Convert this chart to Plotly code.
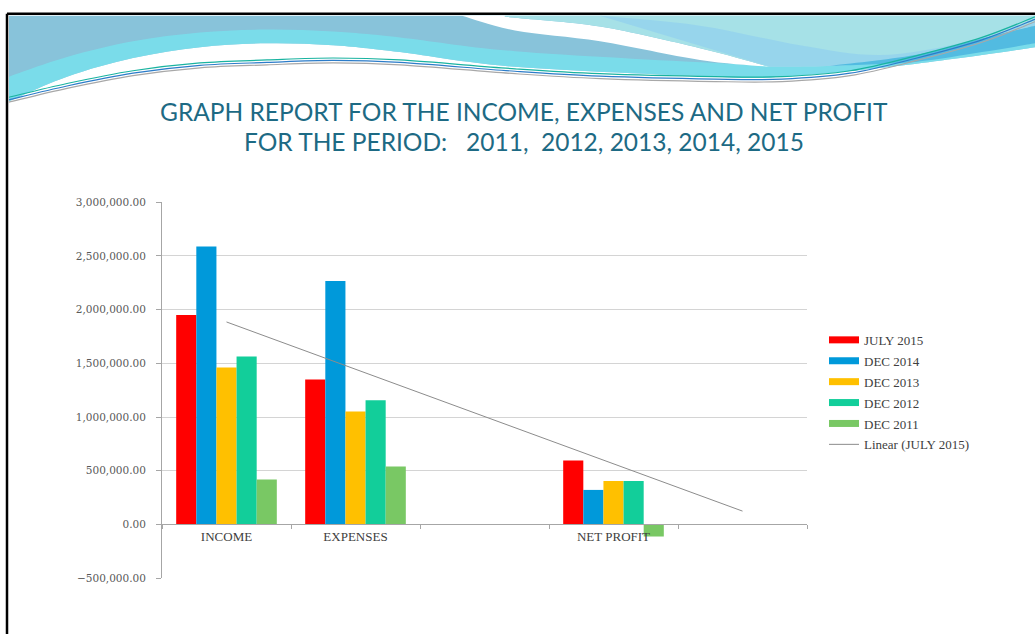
import numpy as np
import plotly.graph_objects as go

# ---------------- data ----------------
categories = ["INCOME", "EXPENSES", "", "NET PROFIT", ""]
july_2015 = [1949000, 1349000, None, 596000, None]
dec_2014 = [2587000, 2266000, None, 321000, None]
dec_2013 = [1462000, 1052000, None, 404000, None]
dec_2012 = [1563000, 1156000, None, 404000, None]
dec_2011 = [417000, 538000, None, -113000, None]
series_names = ["JULY 2015", "DEC 2014", "DEC 2013", "DEC 2012", "DEC 2011"]
series_values = [july_2015, dec_2014, dec_2013, dec_2012, dec_2011]
series_colors = ["#FF0000", "#0099DA", "#FFC000", "#12CE9A", "#79C864"]
y_ticks = [-500000, 0, 500000, 1000000, 1500000, 2000000, 2500000, 3000000]
trend_name = "Linear (JULY 2015)"
title_line1 = "GRAPH REPORT FOR THE INCOME, EXPENSES AND NET PROFIT"
title_line2 = "FOR THE PERIOD:\u00a0\u00a0 2011,\u00a0 2012, 2013, 2014, 2015"

# ---------------- geometry ----------------
W, H = 1035, 640
PL, PR, PT, PB = 162, 807, 200, 583  # plot area in px
y_min, y_max = y_ticks[0], y_ticks[-1]
positions = list(range(1, len(categories) + 1))

x_dom = [PL / W, PR / W]
y_dom = [1 - PB / H, 1 - PT / H]
zero_pos = y_dom[0] + (0 - y_min) / (y_max - y_min) * (y_dom[1] - y_dom[0])

# linear trend of July 2015 (blank categories skipped)
tx = [p for p, v in zip(positions, july_2015) if v is not None]
ty = [v for v in july_2015 if v is not None]
slope, icpt = np.polyfit(tx, ty, 1)
trend_y = [slope * p + icpt for p in positions]

fig = go.Figure()
for name, vals, col in zip(series_names, series_values, series_colors):
    fig.add_trace(go.Bar(x=positions, y=vals, name=name, marker=dict(color=col, line=dict(width=0)),
                         legendgroup=name, showlegend=False))
for name, col in zip(series_names, series_colors):
    fig.add_trace(go.Scatter(x=[None], y=[None], mode="lines", name=name, legendgroup=name,
                             line=dict(color=col, width=7), hoverinfo="skip"))
fig.add_trace(go.Scatter(x=positions, y=trend_y, mode="lines", name=trend_name, legendgroup="trend",
                         line=dict(color="#8C8C8C", width=1)))


# ---------------- decoration (slide waves) ----------------
def P(x, y):
    return f"{x / W:.5f},{1 - y / H:.5f}"


def smooth(pts, cmd="M"):
    s = f"{cmd}{P(*pts[0])}"
    for i in range(len(pts) - 1):
        p0 = pts[i - 1] if i > 0 else pts[i]
        p1, p2 = pts[i], pts[i + 1]
        p3 = pts[i + 2] if i + 2 < len(pts) else p2
        c1 = (p1[0] + (p2[0] - p0[0]) / 6, p1[1] + (p2[1] - p0[1]) / 6)
        c2 = (p2[0] - (p3[0] - p1[0]) / 6, p2[1] - (p3[1] - p1[1]) / 6)
        s += f" C{P(*c1)} {P(*c2)} {P(*p2)}"
    return s


lower = [(1035, 42), (982, 50), (882, 63), (782, 72), (715, 72), (515, 62), (400, 47),
         (333, 40), (267, 38), (200, 42), (133, 53), (67, 72), (9, 97)]
band_top = [(9, 72), (67, 52), (133, 36), (200, 27), (267, 24), (333, 26), (400, 32),
            (515, 46), (715, 58), (782, 60), (882, 52), (982, 40), (1035, 32)]
sw_upper = [(505, 10), (515, 12), (600, 21), (700, 43), (770, 62)]
sw_lower = [(770, 62), (700, 55), (600, 36), (515, 25), (462, 10)]
right_low = [(770, 62), (848, 60), (915, 50), (982, 33), (1035, 20)]
right_mid = [(600, 10), (700, 20), (800, 40), (880, 50), (960, 38), (1035, 16)]

shapes = []
shapes.append(dict(type="path", xref="paper", yref="paper", line=dict(width=0), fillcolor="#88C3DA",
                   layer="below",
                   path=f"M{P(9, 10)} L{P(1035, 10)} L{P(1035, 42)} " + smooth(lower, "L") + " Z"))
shapes.append(dict(type="path", xref="paper", yref="paper", line=dict(width=0), fillcolor="#78E0EC",
                   layer="below", opacity=0.85,
                   path=smooth(band_top, "M") + " " + smooth(lower, "L") + " Z"))
shapes.append(dict(type="path", xref="paper", yref="paper", line=dict(width=0), fillcolor="#FFFFFF",
                   layer="below",
                   path=smooth(sw_upper, "M") + " " + smooth(sw_lower, "L") + " Z"))
shapes.append(dict(type="path", xref="paper", yref="paper", line=dict(width=0), fillcolor="#A6E1E7",
                   layer="below",
                   path=f"M{P(505, 10)} L{P(1035, 10)} L{P(1035, 20)} "
                   + smooth(right_low[::-1], "L") + " " + smooth(sw_upper[::-1], "L") + " Z"))
shapes.append(dict(type="path", xref="paper", yref="paper", line=dict(width=0), fillcolor="#93D2EE",
                   layer="below", opacity=0.8,
                   path=smooth(right_mid, "M") + " " + smooth(right_low[::-1], "L") + " Z"))
strip_up = [(830, 61), (915, 50), (982, 33), (1035, 20)]
strip_lo = [(1035, 38), (982, 47), (915, 57), (830, 61)]
shapes.append(dict(type="path", xref="paper", yref="paper", line=dict(width=0), fillcolor="#52BBE1",
                   layer="below",
                   path=smooth(strip_up, "M") + " " + smooth(strip_lo, "L") + " Z"))

line_base = [(9, 93), (67, 79), (133, 66), (200, 58), (267, 55), (333, 53), (400, 55), (515, 64),
             (600, 69), (715, 72), (782, 72), (850, 66), (915, 51), (982, 32), (1035, 11)]
for dy, col in [(0, "#19B3A0"), (2.5, "#2C7CC9"), (5, "#A8A8A8")]:
    pts = [(x, y + dy) for x, y in line_base]
    shapes.append(dict(type="path", xref="paper", yref="paper", layer="below",
                       line=dict(color=col, width=1.2), path=smooth(pts, "M")))

# slide frame
shapes.append(dict(type="line", xref="paper", yref="paper", x0=7 / W, x1=7 / W, y0=1 - 8 / H, y1=0,
                   line=dict(color="#000000", width=2.5)))
shapes.append(dict(type="line", xref="paper", yref="paper", x0=7 / W, x1=1, y0=1 - 8 / H, y1=1 - 8 / H,
                   line=dict(color="#000000", width=2.5)))

serif = "DejaVu Serif"
title_font = dict(family="Lato", size=24.5, color="#1D6A84")
fig.update_layout(
    width=W, height=H,
    margin=dict(l=0, r=0, t=0, b=0),
    paper_bgcolor="#FFFFFF", plot_bgcolor="#FFFFFF",
    barmode="group", bargap=0.22, bargroupgap=0,
    showlegend=True,
    legend=dict(x=824 / W, y=1 - 325 / H, xanchor="left", yanchor="top", tracegroupgap=1,
                font=dict(family="Liberation Serif", size=13, color="#404040"),
                bgcolor="rgba(0,0,0,0)", traceorder="grouped"),
    shapes=shapes,
    annotations=[
        dict(text=title_line1, xref="paper", yref="paper", x=524 / W, y=1 - 108 / H, showarrow=False,
             xanchor="center", yanchor="middle", font=title_font),
        dict(text=title_line2, xref="paper", yref="paper", x=524 / W, y=1 - 138 / H, showarrow=False,
             xanchor="center", yanchor="middle", font=title_font),
    ],
    xaxis=dict(domain=x_dom, range=[0.5, len(categories) + 0.5], anchor="free", position=zero_pos,
               tickmode="array", tickvals=positions, ticktext=categories, ticks="",
               showline=True, linecolor="#A6A6A6", linewidth=1, showgrid=False, zeroline=False,
               tickfont=dict(family="Liberation Serif", size=13, color="#404040"),
               minor=dict(tickmode="array", tickvals=[p - 0.5 for p in positions] + [positions[-1] + 0.5],
                          ticks="outside", ticklen=4, tickcolor="#A6A6A6", showgrid=False),
               fixedrange=True),
    yaxis=dict(domain=y_dom, range=[y_min, y_max], anchor="x", tickmode="array", tickvals=y_ticks,
               tickformat=",.2f", showline=True, linecolor="#A6A6A6", linewidth=1,
               ticks="outside", ticklen=5, tickcolor="#A6A6A6",
               showgrid=True, gridcolor="#D4D4D4", gridwidth=1, zeroline=False,
               tickfont=dict(family=serif, size=10.5, color="#595959"), ticklabelstandoff=8,
               fixedrange=True),
)

page_fix = (
    "var gd=document.getElementById('{plot_id}');"
    "gd.style.position='absolute';gd.style.left='0px';gd.style.top='0px';"
    "document.documentElement.style.margin='0';document.documentElement.style.padding='0';"
    "document.documentElement.style.overflow='hidden';document.documentElement.style.height='640px';"
    "document.body.style.margin='0';document.body.style.padding='0';"
    "document.body.style.overflow='hidden';document.body.style.height='640px';"
)

fig.write_html("out.html", config={"displayModeBar": False}, post_script=page_fix)
